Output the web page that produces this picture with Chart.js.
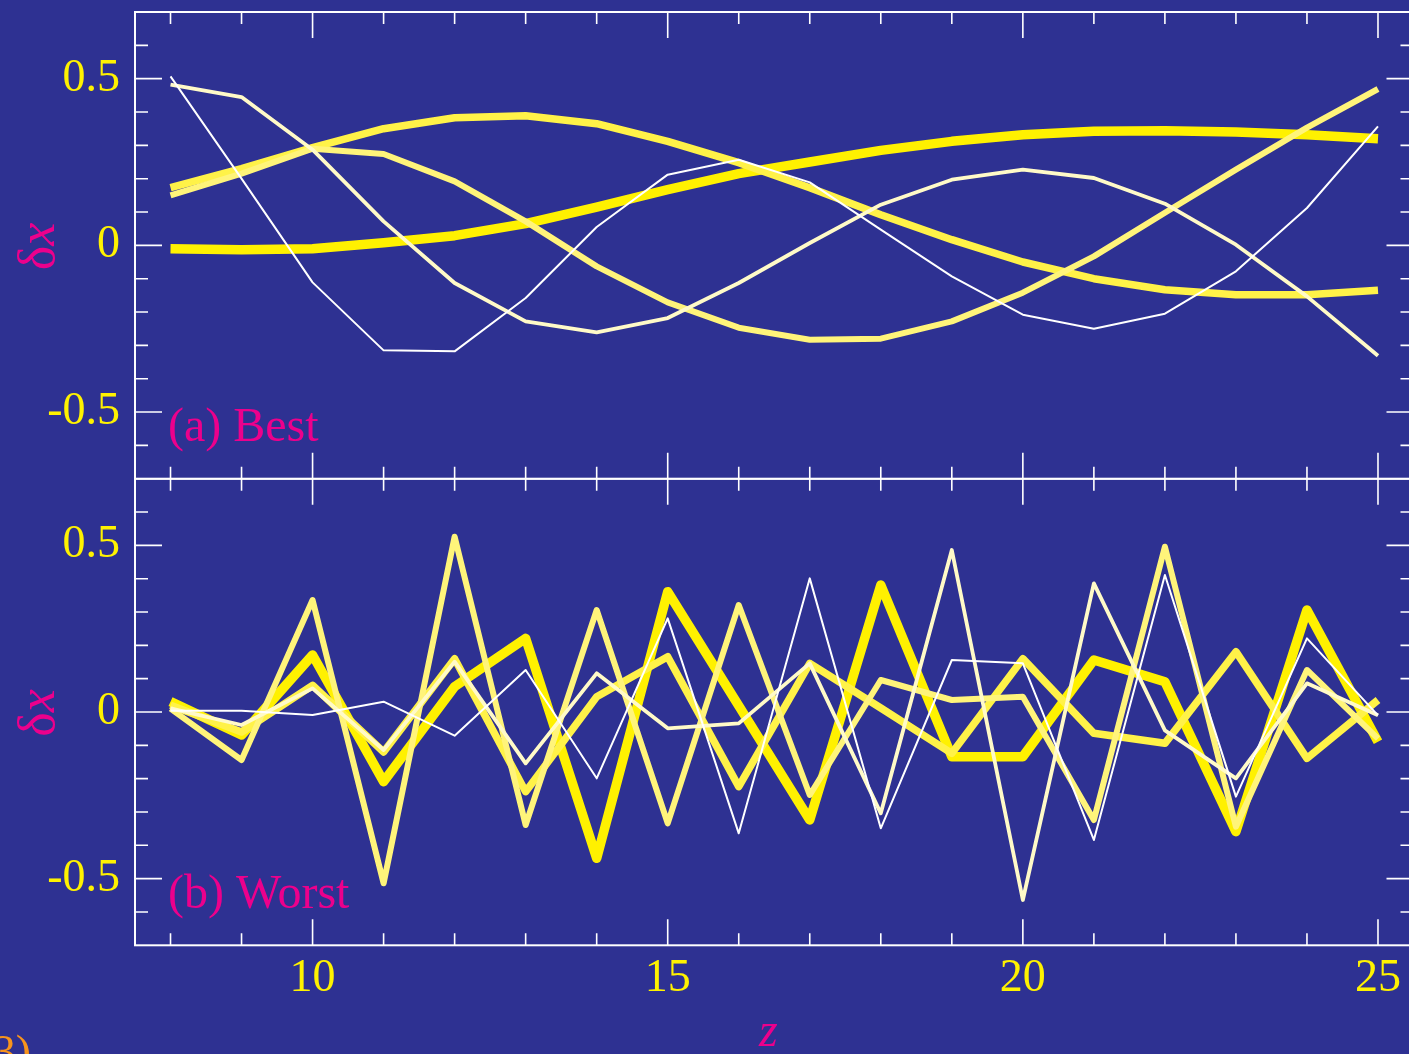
<!DOCTYPE html>
<html>
<head>
  <meta charset="utf-8">
  <title>δx along z: best and worst</title>
  <script src="https://cdn.jsdelivr.net/npm/chart.js"></script>
  <style>
    html, body { margin: 0; padding: 0; width: 1409px; height: 1054px; overflow: hidden; background: #2E3192; }
    canvas { position: absolute; left: 0; }
    #best { top: 0; }
    #worst { top: 478px; }
  </style>
</head>
<body>
  <canvas id="best" width="1430" height="480"></canvas>
  <canvas id="worst" width="1430" height="600"></canvas>
  <script>
    // z positions of the samples
    const zValues = [8, 9, 10, 11, 12, 13, 14, 15, 16, 17, 18, 19, 20, 21, 22, 23, 24, 25];

    // (a) Best — five curves
    const bestThick  = [-0.010, -0.013, -0.010, 0.008, 0.029, 0.065, 0.115, 0.167, 0.215, 0.250, 0.285, 0.312, 0.332, 0.342, 0.344, 0.340, 0.332, 0.320];
    const bestWide   = [0.173, 0.230, 0.293, 0.350, 0.383, 0.389, 0.365, 0.312, 0.248, 0.173, 0.092, 0.017, -0.050, -0.100, -0.133, -0.148, -0.148, -0.135];
    const bestMedium = [0.150, 0.215, 0.290, 0.274, 0.192, 0.072, -0.063, -0.171, -0.247, -0.283, -0.280, -0.228, -0.142, -0.033, 0.098, 0.227, 0.353, 0.469];
    const bestNarrow = [0.482, 0.445, 0.287, 0.072, -0.113, -0.228, -0.261, -0.218, -0.113, 0.007, 0.122, 0.197, 0.227, 0.202, 0.125, 0.002, -0.153, -0.331];
    const bestThin   = [0.507, 0.200, -0.111, -0.315, -0.318, -0.158, 0.055, 0.212, 0.257, 0.189, 0.047, -0.093, -0.208, -0.250, -0.205, -0.078, 0.112, 0.357];

    // (b) Worst
    const worstThick  = [0.031, -0.069, 0.171, -0.209, 0.076, 0.221, -0.439, 0.361, 0.019, -0.324, 0.381, -0.134, -0.134, 0.156, 0.091, -0.359, 0.306, -0.089];
    const worstWide   = [0.020, -0.060, 0.080, -0.120, 0.160, -0.239, 0.046, 0.166, -0.224, 0.146, 0.012, -0.124, 0.160, -0.064, -0.094, 0.181, -0.139, 0.036];
    const worstMedium = [0.010, -0.144, 0.336, -0.514, 0.526, -0.339, 0.306, -0.334, 0.321, -0.249, 0.096, 0.036, 0.046, -0.324, 0.496, -0.344, 0.126, -0.080];
    const worstNarrow = [0.011, -0.039, 0.071, -0.114, 0.151, -0.154, 0.116, -0.049, -0.034, 0.146, -0.304, 0.486, -0.564, 0.386, -0.055, -0.199, 0.086, -0.010];
    const worstThin   = [0.004, 0.004, -0.009, 0.031, -0.071, 0.126, -0.199, 0.281, -0.364, 0.401, -0.349, 0.156, 0.146, -0.384, 0.411, -0.254, 0.221, -0.010];

    // axis ticks and labels
    const xTickValues = [8, 9, 10, 11, 12, 13, 14, 15, 16, 17, 18, 19, 20, 21, 22, 23, 24, 25];
    const xLabelValues = [10, 15, 20, 25];
    const yTickValues = [-0.6, -0.5, -0.4, -0.3, -0.2, -0.1, 0, 0.1, 0.2, 0.3, 0.4, 0.5, 0.6];
    const yLabelValues = [-0.5, 0, 0.5];

    const YELLOW = '#FFF200';
    const MAGENTA = '#EC008C';
    const SERIF = '"Liberation Serif", "Times New Roman", serif';

    // thin line on top, thickest at the back
    const lineStyles = [
      { color: '#FFFFFF', width: 2 },
      { color: '#FFFAC8', width: 3.8 },
      { color: '#FFF47A', width: 6 },
      { color: '#FFF248', width: 7.5 },
      { color: '#FFF100', width: 9.5 }
    ];

    function makeDatasets(seriesList) {
      return seriesList.map((values, i) => ({
        data: zValues.map((z, k) => ({ x: z, y: values[k] })),
        borderColor: lineStyles[i].color,
        borderWidth: lineStyles[i].width,
        borderJoinStyle: 'round',
        pointRadius: 0,
        tension: 0,
        fill: false
      }));
    }

    function drawDeltaX(ctx, cx, cy) {
      const upright = '52px ' + SERIF, italic = 'italic 52px ' + SERIF;
      ctx.save();
      ctx.translate(cx, cy);
      ctx.rotate(-Math.PI / 2);
      ctx.fillStyle = MAGENTA;
      ctx.textBaseline = 'alphabetic';
      ctx.textAlign = 'left';
      ctx.font = upright;
      const w1 = ctx.measureText('δ').width;
      ctx.font = italic;
      const w2 = ctx.measureText('x').width;
      const x0 = -(w1 + w2) / 2;
      ctx.font = upright;
      ctx.fillText('δ', x0, 0);
      ctx.font = italic;
      ctx.fillText('x', x0 + w1, 0);
      ctx.restore();
    }

    // frame, inward ticks and the free texts of each panel
    const panelFrame = {
      id: 'panelFrame',
      afterDatasetsDraw(chart, args, opts) {
        const ctx = chart.ctx, a = chart.chartArea;
        const xs = chart.scales.x, ys = chart.scales.y;
        ctx.save();
        ctx.strokeStyle = '#FFFFFF';
        ctx.lineWidth = 1.6;
        ctx.beginPath();
        for (const z of xTickValues) {
          const px = xs.getPixelForValue(z);
          const len = xLabelValues.includes(z) ? 26 : 12;
          ctx.moveTo(px, a.top); ctx.lineTo(px, a.top + len);
          ctx.moveTo(px, a.bottom); ctx.lineTo(px, a.bottom - len);
        }
        for (const v of yTickValues) {
          const py = ys.getPixelForValue(v);
          const len = yLabelValues.some(l => Math.abs(l - v) < 1e-9) ? 27 : 13;
          ctx.moveTo(a.left, py); ctx.lineTo(a.left + len, py);
          ctx.moveTo(a.right, py); ctx.lineTo(a.right - len, py);
        }
        ctx.stroke();
        ctx.lineWidth = 2;
        ctx.strokeRect(a.left, a.top, a.right - a.left, a.bottom - a.top);

        drawDeltaX(ctx, 54, ys.getPixelForValue(0) + 1);

        ctx.font = '48px ' + SERIF;
        ctx.fillStyle = MAGENTA;
        ctx.textAlign = 'left';
        ctx.textBaseline = 'alphabetic';
        ctx.fillText(opts.label, a.left + 33, ys.getPixelForValue(-0.5) + 29);

        if (opts.axisTitle) {
          ctx.font = 'italic 48px ' + SERIF;
          ctx.textAlign = 'center';
          ctx.fillText('z', (a.left + a.right) / 2 - 6, a.bottom + 101);
          ctx.font = '46px ' + SERIF;
          ctx.fillStyle = '#F7941D';
          ctx.textAlign = 'right';
          ctx.fillText('(3)', 31, a.bottom + 122);
        }
        ctx.restore();
      }
    };

    function makeChart(id, seriesList, label, showX) {
      const bottomAxisHeight = showX ? 132.7 : 0;
      return new Chart(document.getElementById(id), {
        type: 'line',
        data: { datasets: makeDatasets(seriesList) },
        plugins: [panelFrame],
        options: {
          responsive: false,
          animation: false,
          events: [],
          layout: { padding: { top: showX ? 0.7 : 12, right: 16.5, bottom: showX ? 0 : 1.3, left: 0 } },
          plugins: {
            legend: { display: false },
            tooltip: { enabled: false },
            panelFrame: { label: label, axisTitle: showX }
          },
          scales: {
            x: {
              type: 'linear',
              min: 7.5,
              max: 25.5,
              display: showX,
              grid: { display: false, drawTicks: false },
              border: { display: false },
              afterFit: s => {
                s.height = bottomAxisHeight;
                s.paddingLeft = 0; s.paddingRight = 0;
              },
              afterBuildTicks: s => { s.ticks = xLabelValues.map(v => ({ value: v })); },
              ticks: {
                color: YELLOW,
                font: { family: SERIF, size: 46, lineHeight: 1.2 },
                padding: 6,
                maxRotation: 0,
                autoSkip: false,
                callback: v => String(v)
              }
            },
            y: {
              type: 'linear',
              min: -0.7,
              max: 0.7,
              grid: { display: false, drawTicks: false },
              border: { display: false },
              afterFit: s => {
                s.width = 135;
                s.paddingTop = 0; s.paddingBottom = 0;
              },
              afterBuildTicks: s => { s.ticks = yLabelValues.map(v => ({ value: v })); },
              ticks: {
                color: YELLOW,
                font: { family: SERIF, size: 46, lineHeight: 1.2 },
                padding: 15,
                callback: v => String(v)
              }
            }
          }
        }
      });
    }

    makeChart('best', [bestThin, bestNarrow, bestMedium, bestWide, bestThick], '(a) Best', false);
    makeChart('worst', [worstThin, worstNarrow, worstMedium, worstWide, worstThick], '(b) Worst', true);
  </script>
</body>
</html>
